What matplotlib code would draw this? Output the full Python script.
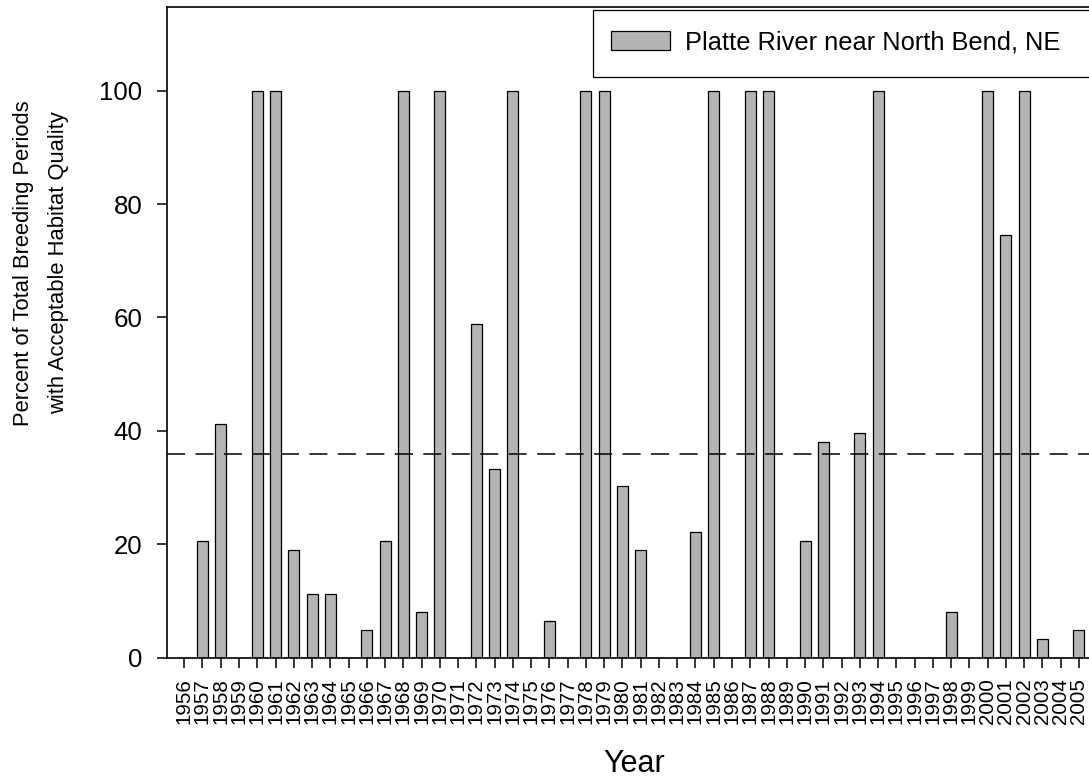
import numpy as np
import matplotlib
matplotlib.use('Agg')
import matplotlib.pyplot as plt
from matplotlib.patches import Rectangle

plt.rcParams['font.family'] = ['Liberation Sans', 'DejaVu Sans']
plt.rcParams['lines.scale_dashes'] = False

# Percent of breeding periods with acceptable habitat, by year
years = list(range(1956, 2006))
percent = [
    0, 20.6, 41.2, 0, 100, 100, 19.0, 11.2, 11.2, 0,
    4.8, 20.6, 100, 8.1, 100, 0, 58.8, 33.3, 100, 0,
    6.5, 0, 100, 100, 30.2, 19.0, 0, 0, 22.2, 100,
    0, 100, 100, 0, 20.6, 38.1, 0, 39.7, 100, 0,
    0, 0, 8.1, 0, 100, 74.6, 100, 3.3, 0, 4.8,
]
threshold = 35.9
series_label = 'Platte River near North Bend, NE'

W, H = 1089, 779
fig = plt.figure(figsize=(W / 100, H / 100), dpi=100)
ax = fig.add_axes([166.5 / W, 121.3 / H, 930.7 / W, 651.0 / H])

x = np.arange(len(years))
ax.bar(x, percent, width=0.6, color='#b4b4b4', edgecolor='black',
       linewidth=0.9, label=series_label, zorder=2)
ax.axhline(threshold, color='black', linewidth=1.1,
           linestyle=(0, (13, 7.5)), zorder=3)

ax.set_xlim(-0.97, 50.0)
ax.set_ylim(0, 114.8)
ax.set_yticks([0, 20, 40, 60, 80, 100])
ax.set_xticks(x)
ax.set_xticklabels([str(y) for y in years], rotation=90, fontsize=14.8)
ax.tick_params(axis='y', labelsize=18.6, length=7.2, width=1.1, pad=10)
ax.tick_params(axis='x', length=7.2, width=1.1, pad=7.5)

ax.spines['right'].set_visible(False)
for side in ['left', 'bottom', 'top']:
    ax.spines[side].set_linewidth(1.2)

# legend box runs off the right edge
fig.patches.append(Rectangle((593 / W, 1 - 76.7 / H), 520 / W, 66.7 / H,
                             transform=fig.transFigure, fill=False,
                             edgecolor='black', linewidth=0.9))
leg = ax.legend(loc='center left', bbox_to_anchor=(610.7 / W, 1 - 42.5 / H),
                bbox_transform=fig.transFigure, frameon=False, fontsize=18.3,
                handlelength=2.32, handleheight=0.75, handletextpad=0.6,
                borderpad=0, borderaxespad=0)

fig.text(23.4 / W, 1 - 263 / H, 'Percent of Total Breeding Periods',
         rotation=90, ha='center', va='center', fontsize=15.8)
fig.text(59 / W, 1 - 263 / H, 'with Acceptable Habitat Quality',
         rotation=90, ha='center', va='center', fontsize=15.8)
fig.text(634 / W, 7 / H, 'Year', ha='center', va='baseline', fontsize=22)

fig.savefig('out.png', dpi=100)
